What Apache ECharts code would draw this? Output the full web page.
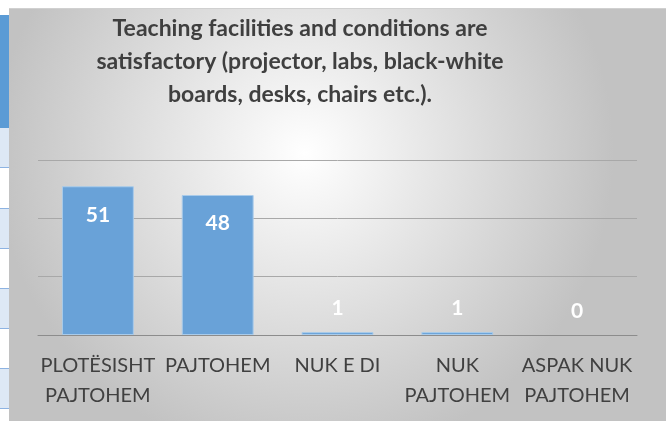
<!DOCTYPE html>
<html>
<head>
<meta charset="utf-8">
<script src="https://cdn.jsdelivr.net/npm/echarts@6/dist/echarts.min.js"></script>
<style>
  body { margin: 0; background: #fff; }
  #wrap { position: relative; width: 666px; height: 421px; overflow: hidden; }
  #strip { position: absolute; left: 0; top: 0; width: 9px; height: 421px; }
  #chart { position: absolute; left: 9px; top: 8px; width: 657px; height: 413px; border-top: 1px solid #d0d0d0; box-sizing: border-box; }
</style>
</head>
<body>
<div id="wrap">
  <div id="strip"></div>
  <div id="chart"></div>
</div>
<script>
const categories = ["PLOTËSISHT\nPAJTOHEM", "PAJTOHEM", "NUK E DI", "NUK\nPAJTOHEM", "ASPAK NUK\nPAJTOHEM"];
const values = [51, 48, 1, 1, 0];
const titleText = "Teaching facilities and conditions are\nsatisfactory (projector, labs, black-white\nboards, desks, chairs etc.).";

// the bit of spreadsheet visible on the left
const strip = document.getElementById("strip");
const rows = [
  [15, 128, "#5b9bd5"], [128, 167, "#dde8f5"], [167, 208, "#ffffff"], [208, 248, "#dde8f5"],
  [248, 288, "#ffffff"], [288, 328, "#dde8f5"], [328, 368, "#ffffff"], [368, 408, "#dde8f5"], [408, 421, "#ffffff"]
];
rows.forEach((r) => {
  const d = document.createElement("div");
  d.style.cssText = `position:absolute;left:0;width:9px;top:${r[0]}px;height:${r[1] - r[0]}px;background:${r[2]};border-top:1px solid ${r[0] > 128 ? "#8db3e2" : "transparent"};box-sizing:border-box;`;
  strip.appendChild(d);
});

const myChart = echarts.init(document.getElementById("chart"));

const font = "Lato, 'Open Sans', sans-serif";

myChart.setOption({
  backgroundColor: {
    type: "radial", x: 0.45, y: 0.35, r: 0.75,
    colorStops: [{ offset: 0, color: "#ffffff" }, { offset: 1, color: "#c2c2c2" }]
  },
  animation: false,
  title: {
    text: titleText,
    left: 286,
    top: -2,
    textAlign: "center",
    textStyle: { fontFamily: font, fontSize: 23, fontWeight: "bold", color: "#3f3f3f", lineHeight: 33 }
  },
  grid: { left: 29, right: 29, top: 151, bottom: 86 },
  xAxis: {
    type: "category",
    data: categories,
    axisTick: { show: false },
    axisLine: { lineStyle: { color: "#8c8c8c", width: 1 } },
    axisLabel: { interval: 0, margin: 16, fontFamily: font, fontSize: 20, color: "#404040", lineHeight: 30 }
  },
  yAxis: {
    type: "value",
    min: 0, max: 60, interval: 20,
    axisLabel: { show: false },
    splitLine: { lineStyle: { color: "#a8a8a8", width: 1 } }
  },
  series: [{
    type: "bar",
    barWidth: "60%",
    data: values.map((v) => ({
      value: v,
      itemStyle: v === 0 ? { borderWidth: 0 } : {},
      label: v < 5 ? { position: "top", distance: 13 } : { position: "insideTop", distance: 18 }
    })),
    itemStyle: { color: "#69a2d8", borderColor: "#a9cbea", borderWidth: 1 },
    label: { show: true, color: "#ffffff", fontFamily: font, fontSize: 21, fontWeight: "bold" }
  }]
});
</script>
</body>
</html>
